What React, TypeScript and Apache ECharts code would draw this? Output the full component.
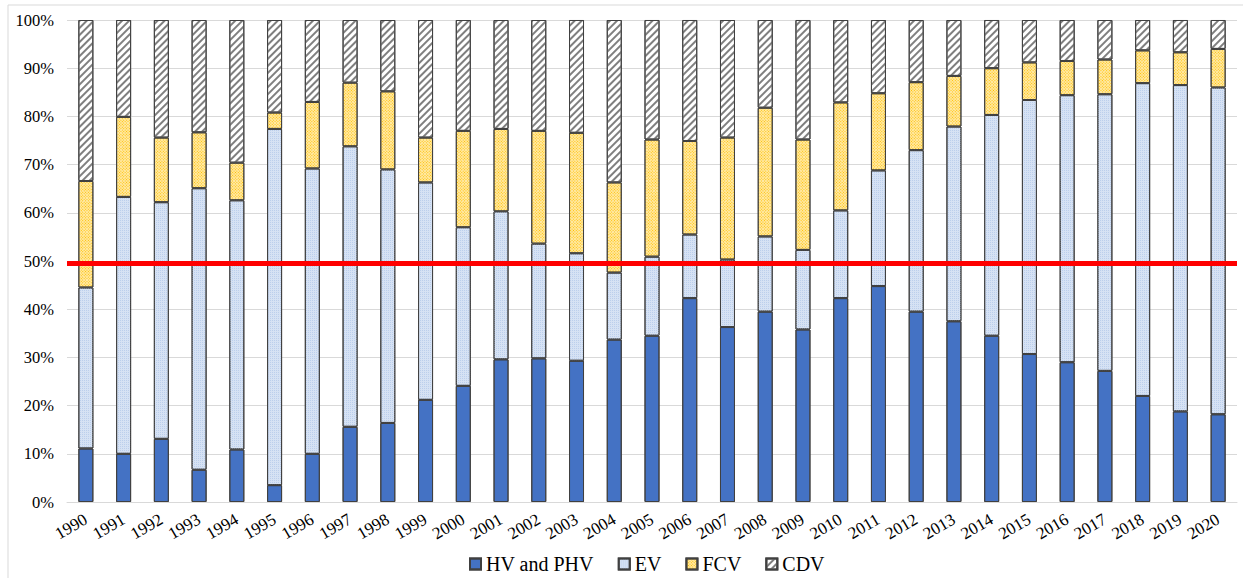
import React, { useEffect, useRef } from "react";
import * as echarts from "echarts";

const years = [
  "1990", "1991", "1992", "1993", "1994", "1995", "1996", "1997", "1998", "1999",
  "2000", "2001", "2002", "2003", "2004", "2005", "2006", "2007", "2008", "2009",
  "2010", "2011", "2012", "2013", "2014", "2015", "2016", "2017", "2018", "2019", "2020",
];

const hvPhv = [11.1, 10.0, 13.1, 6.7, 10.9, 3.5, 10.0, 15.6, 16.4, 21.2, 24.1, 29.6, 29.8, 29.3, 33.7, 34.5, 42.3, 36.3, 39.5, 35.8, 42.3, 44.8, 39.5, 37.5, 34.5, 30.7, 29.0, 27.2, 22.0, 18.8, 18.2];
const ev = [33.4, 53.3, 49.1, 58.4, 51.7, 73.9, 59.2, 58.2, 52.6, 45.1, 32.9, 30.7, 23.8, 22.3, 13.9, 16.4, 13.2, 14.0, 15.6, 16.5, 18.2, 24.0, 33.5, 40.4, 45.8, 52.7, 55.4, 57.4, 64.9, 67.7, 67.8];
const fcv = [22.1, 16.6, 13.4, 11.6, 7.8, 3.4, 13.8, 13.2, 16.2, 9.3, 20.0, 17.1, 23.4, 25.0, 18.7, 24.3, 19.4, 25.3, 26.7, 22.9, 22.4, 16.0, 14.1, 10.5, 9.7, 7.8, 7.1, 7.2, 6.8, 6.8, 8.0];
const cdv = [33.4, 20.1, 24.4, 23.3, 29.6, 19.2, 17.0, 13.0, 14.8, 24.4, 23.0, 22.6, 23.0, 23.4, 33.7, 24.8, 25.1, 24.4, 18.2, 24.8, 17.1, 15.2, 12.9, 11.6, 10.0, 8.8, 8.5, 8.2, 6.3, 6.7, 6.0];

const seriesNames = ["HV and PHV", "EV", "FCV", "CDV"];
const thresholdLine = 49.5;

export default function App() {
  const ref = useRef<HTMLDivElement>(null);

  useEffect(() => {
    if (!ref.current) return;
    const chart = echarts.init(ref.current, null, { renderer: "svg" });
    const serif = "Liberation Serif";
    const border = { borderColor: "#404040", borderWidth: 1 };

    const option: any = {
      animation: false,
      aria: { enabled: true, decal: { show: true } },
      graphic: [
        {
          type: "rect",
          shape: { x: 8, y: 5, width: 1240, height: 580 },
          style: { fill: "none", stroke: "#d9d9d9", lineWidth: 1 },
          silent: true,
        },
      ],
      grid: { left: 67, right: 6, top: 20, bottom: 76, containLabel: false },
      legend: {
        left: 464,
        top: 549,
        icon: "rect",
        itemWidth: 11,
        itemHeight: 11,
        itemGap: 24,
        textStyle: { fontFamily: serif, fontSize: 20, color: "#000" },
        data: seriesNames,
      },
      xAxis: {
        type: "category",
        data: years,
        axisLine: { show: true, lineStyle: { color: "#d9d9d9" } },
        axisTick: { show: false },
        axisLabel: {
          rotate: 30,
          margin: 16,
          fontFamily: serif,
          fontSize: 17,
          color: "#000",
          interval: 0,
        },
      },
      yAxis: {
        type: "value",
        min: 0,
        max: 100,
        interval: 10,
        axisLine: { show: false },
        axisTick: { show: false },
        splitLine: { lineStyle: { color: "#d9d9d9", width: 1 } },
        axisLabel: {
          formatter: "{value}%",
          fontFamily: serif,
          fontSize: 16.5,
          color: "#000",
          margin: 13,
        },
      },
      series: [
        {
          name: seriesNames[0],
          type: "bar",
          stack: "total",
          barWidth: 15,
          data: hvPhv,
          itemStyle: { color: "#4472c4", ...border, decal: { symbol: "none" } },
          markLine: {
            silent: true,
            symbol: ["none", "none"],
            label: { show: false },
            lineStyle: { color: "#ff0000", width: 5, type: "solid" },
            data: [{ yAxis: thresholdLine }],
          },
          z: 2,
        },
        {
          name: seriesNames[1],
          type: "bar",
          stack: "total",
          barWidth: 15,
          data: ev,
          itemStyle: {
            color: "#d6e2f4",
            ...border,
            decal: {
              symbol: "rect",
              symbolSize: 1,
              color: "#bccfec",
              dashArrayX: [1, 1],
              dashArrayY: [1, 1],
            },
          },
        },
        {
          name: seriesNames[2],
          type: "bar",
          stack: "total",
          barWidth: 15,
          data: fcv,
          itemStyle: {
            color: "#ffe9a6",
            ...border,
            decal: {
              symbol: "rect",
              symbolSize: 1,
              color: "#ffc000",
              dashArrayX: [1, 1],
              dashArrayY: [1, 1],
            },
          },
        },
        {
          name: seriesNames[3],
          type: "bar",
          stack: "total",
          barWidth: 15,
          data: cdv,
          itemStyle: {
            color: "#ffffff",
            ...border,
            decal: {
              symbol: "rect",
              symbolSize: 1,
              color: "#7f7f7f",
              dashArrayX: [1, 0],
              dashArrayY: [2, 3],
              rotation: -Math.PI / 4,
            },
          },
        },
      ],
    };

    chart.setOption(option);
    return () => chart.dispose();
  }, []);

  return (
    <div
      ref={ref}
      style={{ position: "fixed", left: 0, top: 0, width: 1243, height: 578, background: "#fff" }}
    />
  );
}
